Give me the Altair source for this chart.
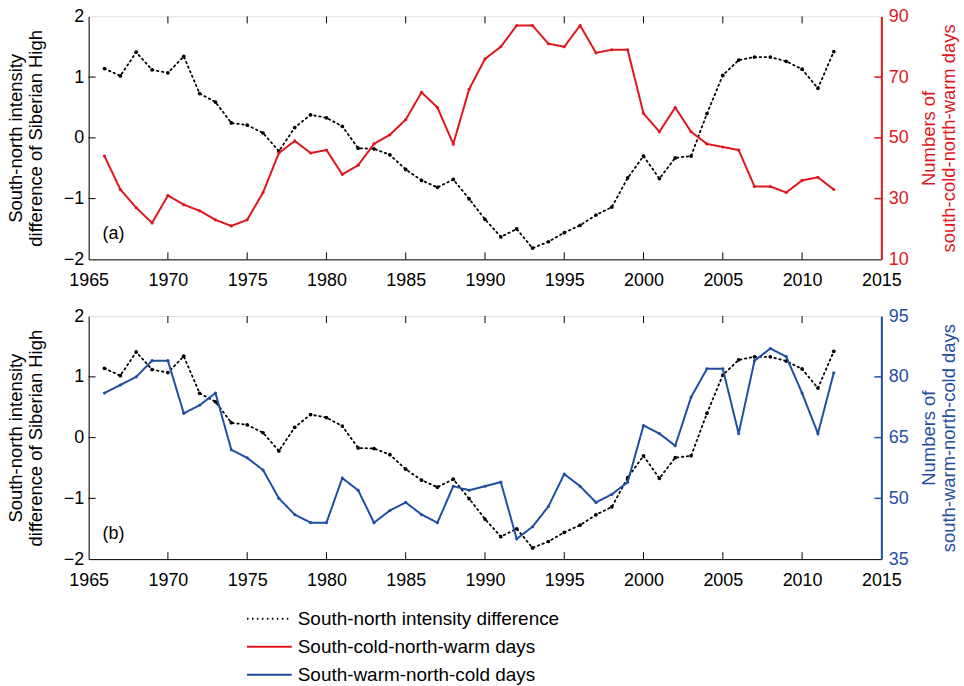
import altair as alt
import pandas as pd

years = list(range(1966, 2013))
sn_diff = [1.14, 1.02, 1.41, 1.12, 1.07, 1.34, 0.73, 0.59, 0.245, 0.21,
           0.08, -0.22, 0.17, 0.38, 0.33, 0.19, -0.17, -0.18, -0.28, -0.52,
           -0.70, -0.815, -0.685, -1.005, -1.34, -1.63, -1.50, -1.815, -1.71, -1.56,
           -1.44, -1.27, -1.14, -0.66, -0.30, -0.67, -0.33, -0.30, 0.40, 1.03,
           1.28, 1.33, 1.33, 1.26, 1.13, 0.815, 1.42]
scnw_days = [44, 33, 27, 22, 31, 28, 26, 23, 21, 23,
             32, 45, 49, 45, 46, 38, 41, 48, 51, 56,
             65, 60, 48, 66, 76, 80, 87, 87, 81, 80,
             87, 78, 79, 79, 58, 52, 60, 52, 48, 47,
             46, 34, 34, 32, 36, 37, 33]
swnc_days = [76, 78, 80, 84, 84, 71, 73, 76, 62, 60,
             57, 50, 46, 44, 44, 55, 52, 44, 47, 49,
             46, 44, 53, 52, 53, 54, 40, 43, 48, 56,
             53, 49, 51, 54, 68, 66, 63, 75, 82, 82,
             66, 84, 87, 85, 76, 66, 81]

series_names = ["South-north intensity difference",
                "South-cold-north-warm days",
                "South-warm-north-cold days"]
series_colors = ["#000000", "#e0161e", "#1f4fa0"]
x_ticks = [1970, 1975, 1980, 1985, 1990, 1995, 2000, 2005, 2010]
x_labels = [1965, 1970, 1975, 1980, 1985, 1990, 1995, 2000, 2005, 2010, 2015]
left_ticks = [-1, 0, 1]
left_labels = [-2, -1, 0, 1, 2]
right_a_labels = [10, 30, 50, 70, 90]
right_b_labels = [35, 50, 65, 80, 95]

FONT = "Liberation Sans"
W, H = 796, 244
TL = 7
LBL = 18
TTL = 18.5

legend_spec = dict(title=None, orient="none", legendX=158, legendY=594,
                   direction="vertical", symbolType="M-1,0H3.5",
                   symbolSize=400, symbolStrokeWidth=2,
                   labelFontSize=19, labelFont=FONT, labelColor="black",
                   rowPadding=7, labelOffset=30, labelLimit=0)
color_enc = alt.Color("series:N",
                      scale=alt.Scale(domain=series_names, range=series_colors),
                      legend=alt.Legend(**legend_spec))
dash_enc = alt.StrokeDash("series:N",
                          scale=alt.Scale(domain=series_names,
                                          range=[[1.5, 3.5], [1, 0], [1, 0]]),
                          legend=alt.Legend(**legend_spec))

x_scale = alt.Scale(domain=[1965, 2015], nice=False)
x_axis = alt.Axis(values=x_labels, format="d", tickSize=0, labelPadding=12,
                  labelFontSize=LBL, labelFont=FONT, labelColor="black",
                  domainColor="black", grid=False, labelFlush=False)


def panel(label, right_vals, right_name, right_color, right_domain, right_labels, right_title):
    df = pd.DataFrame({"year": years, "sn": sn_diff, "rv": right_vals})
    df_black = df.assign(series=series_names[0])
    df_right = df.assign(series=right_name)
    lscale = alt.Scale(domain=[-2, 2], nice=False)
    rscale = alt.Scale(domain=right_domain, nice=False)

    black_line = alt.Chart(df_black).mark_line(strokeWidth=1.8, strokeCap="round").encode(
        x=alt.X("year:Q", scale=x_scale, axis=x_axis, title=None),
        y=alt.Y("sn:Q", scale=lscale,
                axis=alt.Axis(values=left_labels, format="d", tickSize=0, labelPadding=5,
                              labelFontSize=LBL, labelFont=FONT, labelColor="black",
                              domainColor="black", grid=False,
                              title=["South-north intensity", "difference of Siberian High"],
                              titleFont=FONT, titleFontSize=TTL, titleFontWeight="normal",
                              titleLineHeight=20, titlePadding=18, titleColor="black")),
        color=color_enc, strokeDash=dash_enc)
    black_pts = alt.Chart(df_black).mark_circle(color="black", size=14, opacity=1).encode(
        x="year:Q", y=alt.Y("sn:Q", scale=lscale))
    top_ticks = alt.Chart(pd.DataFrame({"year": x_ticks})).mark_rule(color="black").encode(
        x="year:Q", y=alt.value(0), y2=alt.value(TL))
    bot_ticks = alt.Chart(pd.DataFrame({"year": x_ticks})).mark_rule(color="black").encode(
        x="year:Q", y=alt.value(H - TL), y2=alt.value(H))
    l_ticks = alt.Chart(pd.DataFrame({"sn": left_ticks})).mark_rule(color="black").encode(
        y=alt.Y("sn:Q", scale=lscale), x=alt.value(0), x2=alt.value(TL))
    lab = alt.Chart(pd.DataFrame({"t": [label]})).mark_text(
        align="left", baseline="middle", fontSize=18, font=FONT, color="black").encode(
        text="t:N", x=alt.value(14), y=alt.value(H - 25))
    left = alt.layer(black_line, black_pts, top_ticks, bot_ticks, l_ticks, lab)

    r_line = alt.Chart(df_right).mark_line(strokeWidth=2).encode(
        x="year:Q",
        y=alt.Y("rv:Q", scale=rscale,
                axis=alt.Axis(orient="right", values=right_labels, tickSize=0, labelPadding=7,
                              labelFontSize=LBL, labelFont=FONT, labelColor=right_color,
                              domainColor=right_color, domainWidth=2, grid=False,
                              title=right_title, titleFont=FONT, titleFontSize=TTL,
                              titleFontWeight="normal", titleLineHeight=20, titleAngle=270,
                              titlePadding=10, titleColor=right_color)),
        color=color_enc, strokeDash=dash_enc)
    r_pts = alt.Chart(df_right).mark_circle(color=right_color, size=10, opacity=1).encode(
        x="year:Q", y=alt.Y("rv:Q", scale=rscale))
    r_ticks = alt.Chart(pd.DataFrame({"rv": right_labels[1:-1]})).mark_rule(
        color=right_color, strokeWidth=1.5).encode(
        y=alt.Y("rv:Q", scale=rscale), x=alt.value(W - TL), x2=alt.value(W))
    right = alt.layer(r_line, r_pts, r_ticks)

    return alt.layer(left, right).resolve_scale(y="independent").properties(width=W, height=H)


pa = panel("(a)", scnw_days, series_names[1], series_colors[1], [10, 90], right_a_labels,
           ["Numbers of", "south-cold-north-warm days"])
pb = panel("(b)", swnc_days, series_names[2], series_colors[2], [35, 95], right_b_labels,
           ["Numbers of", "south-warm-north-cold days"])

chart = alt.vconcat(pa, pb, spacing=16).configure_view(
    stroke="black", strokeWidth=1.2).configure(background="white")

chart.save("out.html", embed_options={"renderer": "svg", "actions": False})
